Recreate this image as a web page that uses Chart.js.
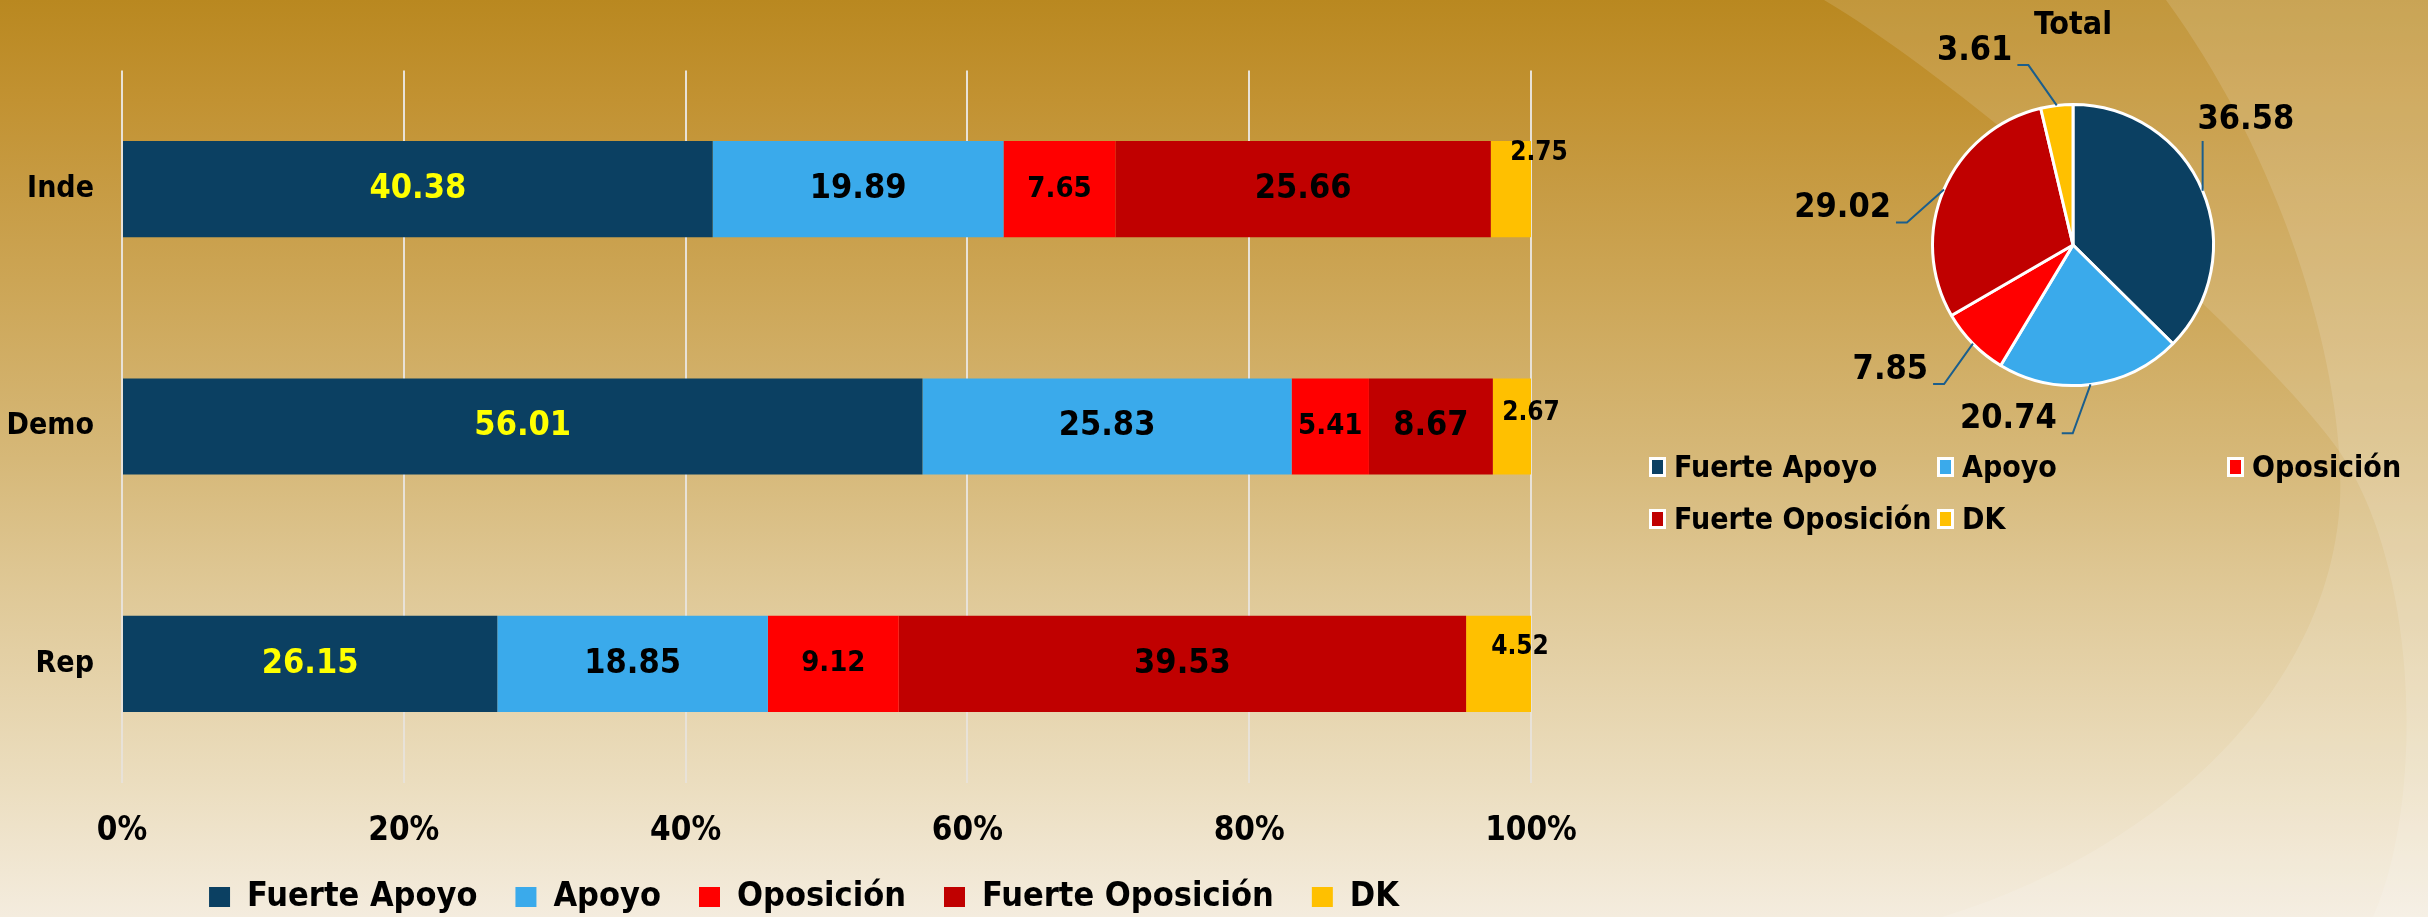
<!DOCTYPE html>
<html>
<head>
<meta charset="utf-8">
<script src="https://cdn.jsdelivr.net/npm/chart.js@4.4.0/dist/chart.umd.min.js"></script>
<style>
    html, body { margin: 0; padding: 0; }
    body {
        width: 2428px; height: 917px; overflow: hidden; position: relative;
        background: linear-gradient(180deg, #B98820 0%, #C29232 11%, #D6B878 50%, #DFC896 64%, #EBDDBE 85%, #F4ECDE 100%);
        font-family: 'DejaVu Sans Condensed', 'DejaVu Sans', sans-serif;
    }
    #bg { position: absolute; left: 0; top: 0; }
    #barWrap { position: absolute; left: 0; top: 0; width: 1610px; height: 924px; }
    #pieWrap { position: absolute; left: 1720px; top: 0; width: 706px; height: 490px; }
    #pieLegend {
        position: absolute; left: 1649px; top: 441px;
        display: grid; grid-template-columns: 288px 290px auto;
        font-weight: bold; font-size: 30px; line-height: 52px; color: #000;
    }
    .item { display: flex; align-items: center; white-space: nowrap; }
    .box { width: 11px; height: 14px; border: 3px solid #fff; margin-right: 8px; }
</style>
</head>
<body>
<svg id="bg" width="2428" height="917">
    <path d="M1824,0 C1960,80 2250,330 2334,444 C2420,560 2425,800 2373,917 L2428,917 L2428,0 Z" fill="#fff" opacity="0.13"/>
    <path d="M2166,0 C2290,170 2345,380 2340,500 C2330,690 2160,850 1942,917 L2428,917 L2428,0 Z" fill="#fff" opacity="0.13"/>
</svg>
<div id="barWrap"><canvas id="bar-chart"></canvas></div>
<div id="pieWrap"><canvas id="pie-chart"></canvas></div>
<div id="pieLegend"></div>

<script>
const categories = ['Inde', 'Demo', 'Rep'];
const seriesNames = ['Fuerte Apoyo', 'Apoyo', 'Oposición', 'Fuerte Oposición', 'DK'];

// values per category (Inde, Demo, Rep)
const fuerteApoyo = [40.38, 56.01, 26.15];
const apoyo = [19.89, 25.83, 18.85];
const oposicion = [7.65, 5.41, 9.12];
const fuerteOposicion = [25.66, 8.67, 39.53];
const dk = [2.75, 2.67, 4.52];

// pie "Total"
const totalValues = [36.58, 20.74, 7.85, 29.02, 3.61];

const xTickLabels = ['0%', '20%', '40%', '60%', '80%', '100%'];

const colors = ['#0B4062', '#3AAAEB', '#FF0000', '#C00000', '#FFC000'];
const fontFamily = "'DejaVu Sans Condensed', 'DejaVu Sans', sans-serif";

Chart.defaults.font.family = fontFamily;
Chart.defaults.font.weight = 'bold';

const rawSeries = [fuerteApoyo, apoyo, oposicion, fuerteOposicion, dk];
// 100% stacked: every row is scaled to its own total
const rowTotals = categories.map((_, j) => rawSeries.reduce((s, arr) => s + arr[j], 0));

// label look per series
const labelSizes = [34, 34, 29, 34, 26];
const labelColors = ['#FFFF00', '#000', '#000', '#000', '#000'];
const dkOffsets = [[8, -36], [0, -13], [-11, -17]];

const barLabels = {
    id: 'barLabels',
    afterDatasetsDraw(chart) {
        const ctx = chart.ctx;
        ctx.save();
        ctx.textAlign = 'center';
        ctx.textBaseline = 'middle';
        chart.data.datasets.forEach((ds, i) => {
            const meta = chart.getDatasetMeta(i);
            meta.data.forEach((bar, j) => {
                const { x, y, base } = bar.getProps(['x', 'y', 'base'], true);
                let lx = (x + base) / 2;
                let ly = y;
                if (i === 4) {
                    lx = x + dkOffsets[j][0];
                    ly = y + dkOffsets[j][1];
                }
                ctx.font = 'bold ' + labelSizes[i] + 'px ' + fontFamily;
                ctx.fillStyle = labelColors[i];
                ctx.fillText(rawSeries[i][j].toFixed(2), lx, ly);
            });
        });
        ctx.restore();
    }
};

// the legend is centred under the whole left panel, not only under the plot
const widenLegend = {
    id: 'widenLegend',
    afterLayout(chart) {
        const lg = chart.legend;
        lg.left = 0;
        lg.right = chart.width - 2;
        lg.width = lg.right - lg.left;
    }
};

new Chart(document.getElementById('bar-chart'), {
    type: 'bar',
    data: {
        labels: categories,
        datasets: seriesNames.map((name, i) => ({
            label: name,
            data: rawSeries[i].map((v, j) => v / rowTotals[j] * 100),
            backgroundColor: colors[i],
            borderWidth: 0,
            barPercentage: 0.405,
            categoryPercentage: 1
        }))
    },
    options: {
        responsive: true,
        maintainAspectRatio: false,
        animation: false,
        indexAxis: 'y',
        layout: { padding: { top: 70.5, right: 79, bottom: 0, left: 0 } },
        plugins: {
            legend: {
                position: 'bottom',
                labels: { boxWidth: 21, boxHeight: 20, padding: 38, color: '#000', font: { size: 34, weight: 'bold' } }
            },
            tooltip: { enabled: false }
        },
        scales: {
            x: {
                stacked: true,
                min: 0,
                max: 100,
                ticks: {
                    stepSize: 20,
                    callback: (v, i) => xTickLabels[i],
                    color: '#000',
                    font: { size: 33, weight: 'bold' },
                    padding: 29
                },
                grid: { color: '#E8E2D8', lineWidth: 2, drawTicks: false },
                border: { display: false },
                afterFit: (s) => { s.height = 59.5; }
            },
            y: {
                stacked: true,
                ticks: { color: '#000', font: { size: 30, weight: 'bold' }, padding: 28 },
                grid: { display: false, drawTicks: false },
                border: { display: false },
                afterFit: (s) => { s.width = 122; }
            }
        }
    },
    plugins: [barLabels, widenLegend]
});

// label spots around the pie, in units of the radius
const pieLabelPos = [[1.23, -0.89], [-0.46, 1.24], [-1.30, 0.89], [-1.64, -0.26], [-0.70, -1.38]];

const pieLabels = {
    id: 'pieLabels',
    afterDatasetsDraw(chart) {
        const ctx = chart.ctx;
        const meta = chart.getDatasetMeta(0);
        ctx.save();
        ctx.font = 'bold 34px ' + fontFamily;
        ctx.textAlign = 'center';
        ctx.textBaseline = 'middle';
        ctx.strokeStyle = '#1B5E8C';
        ctx.lineWidth = 2;
        meta.data.forEach((arc, i) => {
            const { x, y, startAngle, endAngle, outerRadius } = arc.getProps(['x', 'y', 'startAngle', 'endAngle', 'outerRadius'], true);
            const mid = (startAngle + endAngle) / 2;
            const ex = x + Math.cos(mid) * outerRadius;
            const ey = y + Math.sin(mid) * outerRadius;
            const lx = x + pieLabelPos[i][0] * outerRadius;
            const ly = y + pieLabelPos[i][1] * outerRadius;
            const text = totalValues[i].toFixed(2);
            const w = ctx.measureText(text).width;
            const bottom = ly + 14;
            ctx.beginPath();
            if (lx > ex) {
                ctx.moveTo(ex, bottom + 7);
                ctx.lineTo(ex, ey);
            } else {
                ctx.moveTo(lx + w / 2 + 5, bottom);
                ctx.lineTo(lx + w / 2 + 16, bottom);
                ctx.lineTo(ex, ey);
            }
            ctx.stroke();
            ctx.fillStyle = '#000';
            ctx.fillText(text, lx, ly);
        });
        ctx.restore();
    }
};

new Chart(document.getElementById('pie-chart'), {
    type: 'pie',
    data: {
        labels: seriesNames,
        datasets: [{ data: totalValues, backgroundColor: colors, borderColor: '#fff', borderWidth: 3 }]
    },
    options: {
        responsive: true,
        maintainAspectRatio: false,
        animation: false,
        layout: { padding: { left: 211, right: 211, top: 0, bottom: 103 } },
        plugins: {
            legend: { display: false },
            tooltip: { enabled: false },
            title: {
                display: true,
                text: 'Total',
                color: '#000',
                font: { size: 32, weight: 'bold' },
                padding: { top: 6, bottom: 58.6 }
            }
        }
    },
    plugins: [pieLabels]
});

// legend for the pie, laid out in three columns
const legendDiv = document.getElementById('pieLegend');
seriesNames.forEach((name, i) => {
    const item = document.createElement('div');
    item.className = 'item';
    const box = document.createElement('span');
    box.className = 'box';
    box.style.background = colors[i];
    item.appendChild(box);
    item.appendChild(document.createTextNode(name));
    legendDiv.appendChild(item);
});
</script>
</body>
</html>
